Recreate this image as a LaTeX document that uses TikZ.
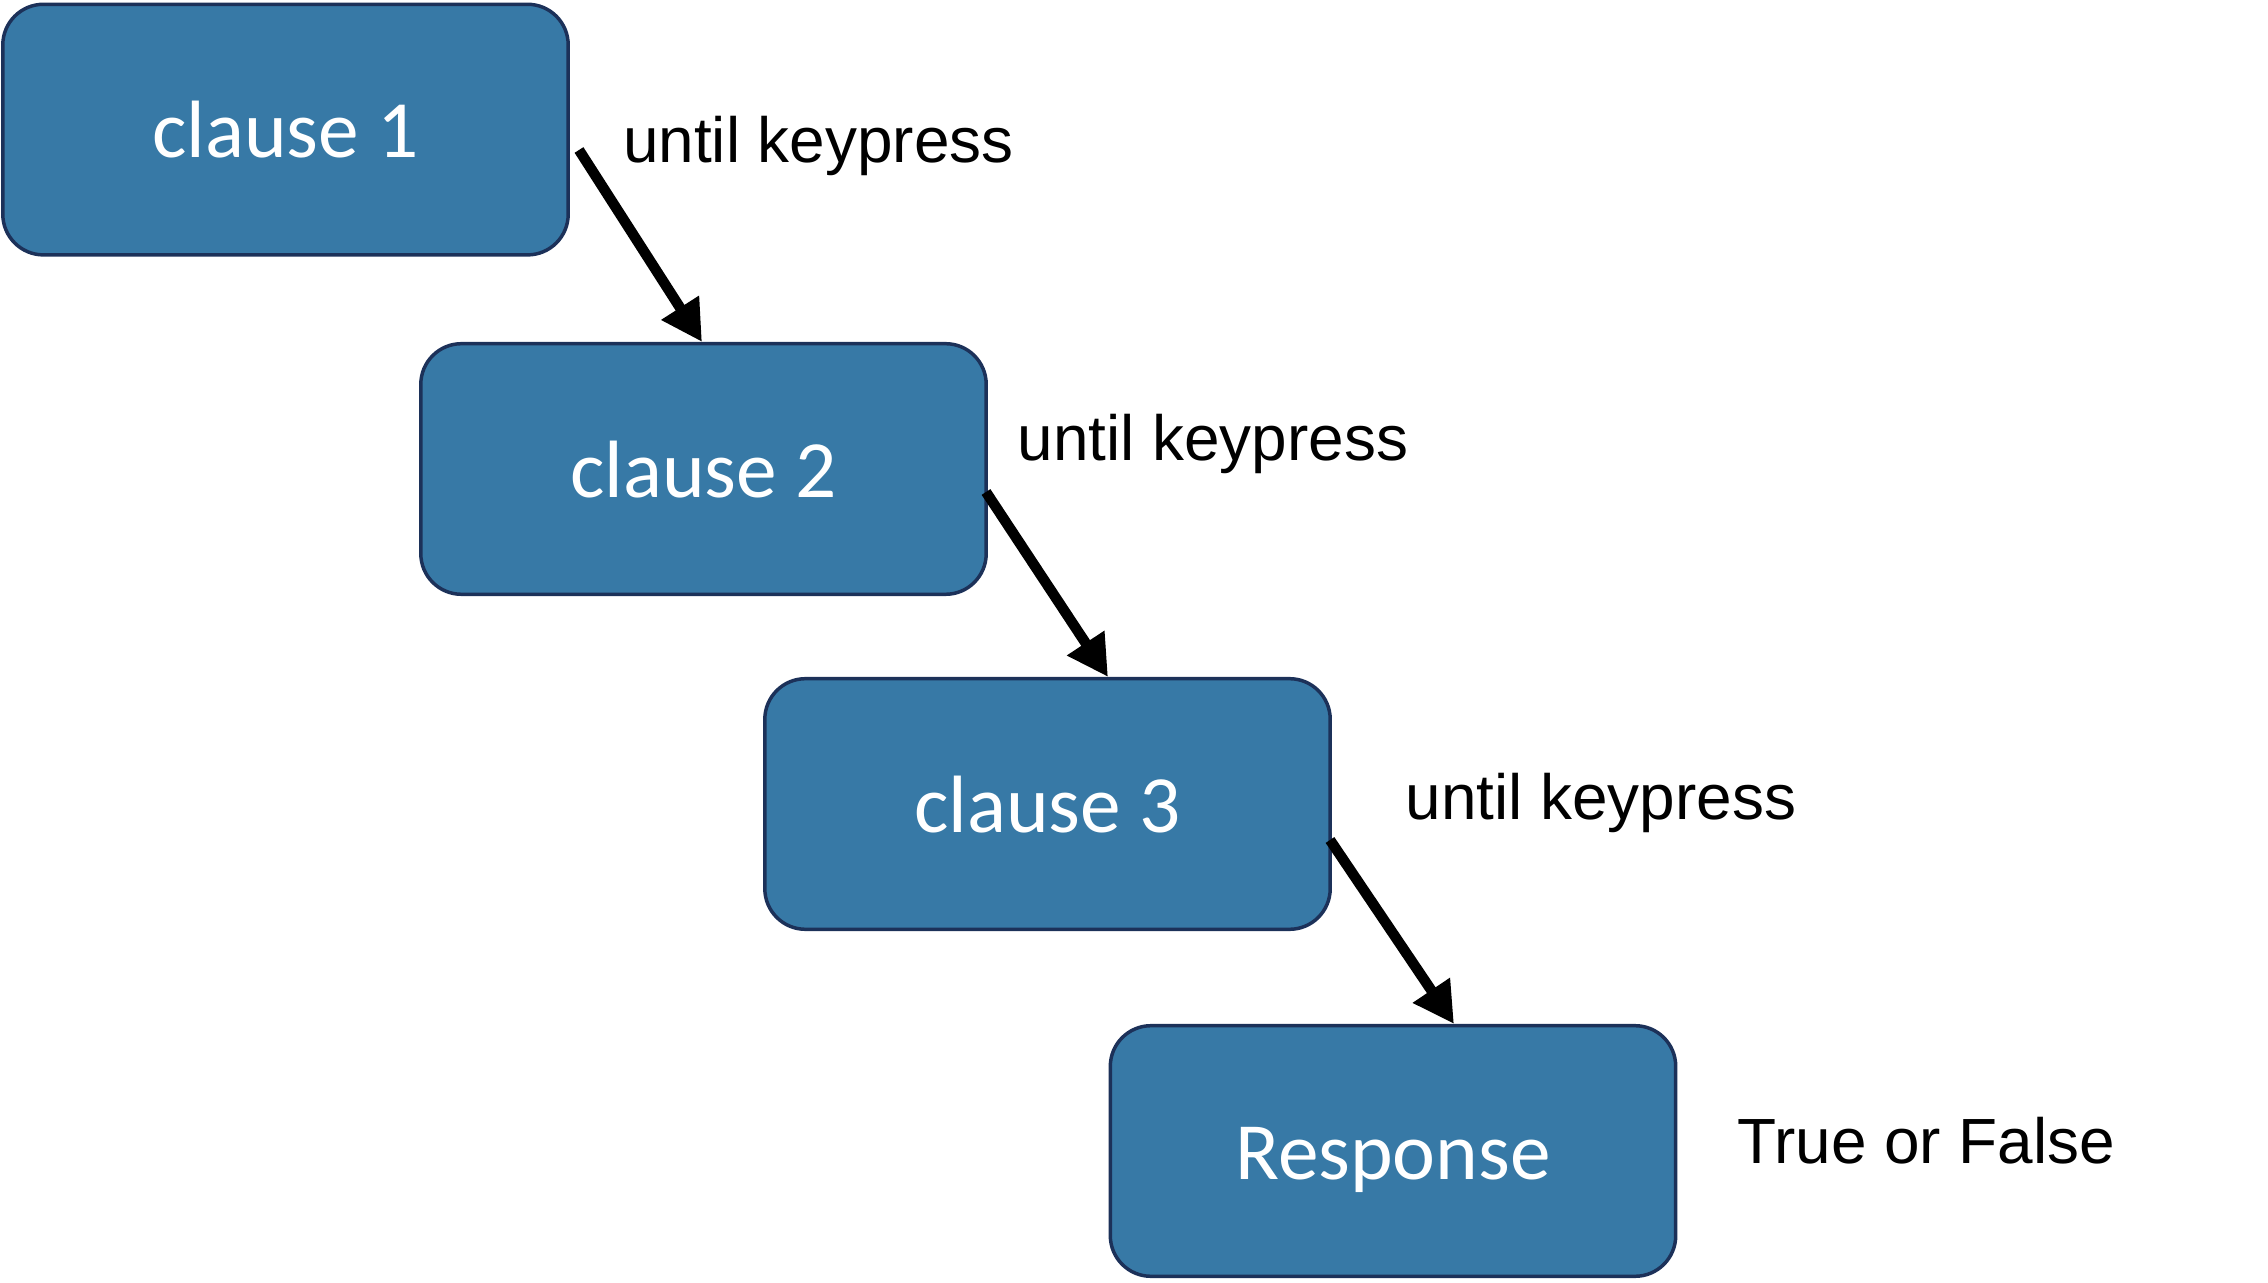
\documentclass[tikz,border=0pt]{standalone}
\usepackage{fontspec}
\setmainfont{Liberation Sans}
\newfontfamily\boxfont{Carlito}
\usetikzlibrary{arrows.meta}
\definecolor{boxfill}{HTML}{3779A6}
\definecolor{boxline}{HTML}{1C3159}
\begin{document}
\begin{tikzpicture}[x=0.34436pt,y=-0.34436pt,
  clausebox/.style={draw=boxline,line width=1.2pt,fill=boxfill,rounded corners=14pt,
    minimum width=194.7pt,minimum height=86.3pt,inner sep=0pt,text=white,
    text height=19.3pt,text depth=0pt,
    font=\boxfont\fontsize{28}{34}\selectfont},
  lbl/.style={anchor=base west,inner sep=0pt,font=\fontsize{22}{26}\selectfont},
  flow/.style={line width=3.6pt,-{Triangle[length=14pt,width=14.5pt]}}]
\useasboundingbox (0,0) rectangle (2268,1283);
\node[clausebox] (c1) at (285.5,129.6) {clause 1};
\node[clausebox] (c2) at (703.5,469) {clause 2};
\node[clausebox] (c3) at (1047.5,804) {clause 3};
\node[clausebox] (r) at (1393,1151) {Response};
\coordinate (s1) at (579,150);
\coordinate (s2) at (986,492);
\coordinate (s3) at (1330,840);
\draw[flow] (s1) -- (c2.north -| 702,0);
\draw[flow] (s2) -- (c3.north -| 1108,0);
\draw[flow] (s3) -- (r.north -| 1454,0);
\node[lbl] (l1) at (622.5,163) {until keypress};
\node[lbl] (l2) at (1017,461) {until keypress};
\node[lbl] (l3) at (1405,820) {until keypress};
\node[lbl] (l4) at (1737,1163) {True or False};
\end{tikzpicture}
\end{document}
